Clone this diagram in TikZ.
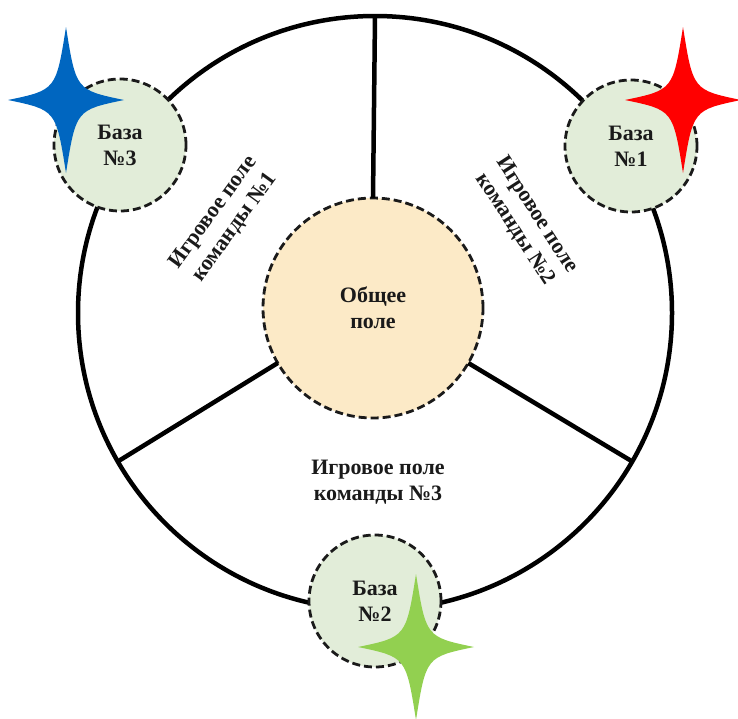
\documentclass[tikz,border=0pt]{standalone}
\usepackage{fontspec}
\setmainfont{Liberation Serif}
\usepackage{tikz}
\usetikzlibrary{positioning}

\definecolor{basegreen}{HTML}{E2EDD9}
\definecolor{commonfill}{HTML}{FCEAC7}
\definecolor{starblue}{HTML}{0066C0}
\definecolor{starred}{HTML}{FF0000}
\definecolor{stargreen}{HTML}{92D050}
\definecolor{ink}{HTML}{1A1A1A}

\tikzset{
  labelfont/.style={font=\fontsize{22}{26}\selectfont\bfseries, text=ink, align=center},
  zone/.style={circle, draw=ink, line width=2.8pt, dash pattern=on 8pt off 4pt,
    outer sep=0pt, inner sep=0pt, labelfont},
  base/.style={zone, fill=basegreen, minimum size=132pt},
  spark/.pic={
    \fill[pic actions] (0,-73) .. controls (10,-10) .. (58,0)
      .. controls (10,10) .. (0,73) .. controls (-10,10) .. (-58,0)
      .. controls (-10,-10) .. (0,-73) -- cycle;
  }
}

\begin{document}
\begin{tikzpicture}[x=1pt, y=-1pt]
    \useasboundingbox (0,0) rectangle (738,718);

    % Playing field
    \node[circle, draw=black, line width=4.5pt, outer sep=0pt, minimum size=594pt] (field) at (375,313) {};
    \node[zone, fill=commonfill, minimum size=220pt] (common) at (373,308) {Общее\\поле};
    \foreach \ang in {90, 210, 330}
        \draw[line width=4.5pt] (common.\ang) -- (field.\ang);

    % Bases
    \node[base] (base1) at (631,146) {База\\№1};
    \node[base] (base2) at (375,601) {База\\№2};
    \node[base] (base3) at (120,145) {База\\№3};

    % Team fields
    \node[labelfont, rotate=54] (team1) at (224,220) {Игровое поле\\команды №1};
    \node[labelfont, rotate=-57] (team2) at (526,222) {Игровое поле\\команды №2};
    \node[labelfont] (team3) at (378,482) {Игровое поле\\команды №3};

    % Stars
    \pic[starred] at (683,100) {spark};
    \pic[stargreen] at (416,647) {spark};
    \pic[starblue] at (66,100) {spark};
\end{tikzpicture}
\end{document}
